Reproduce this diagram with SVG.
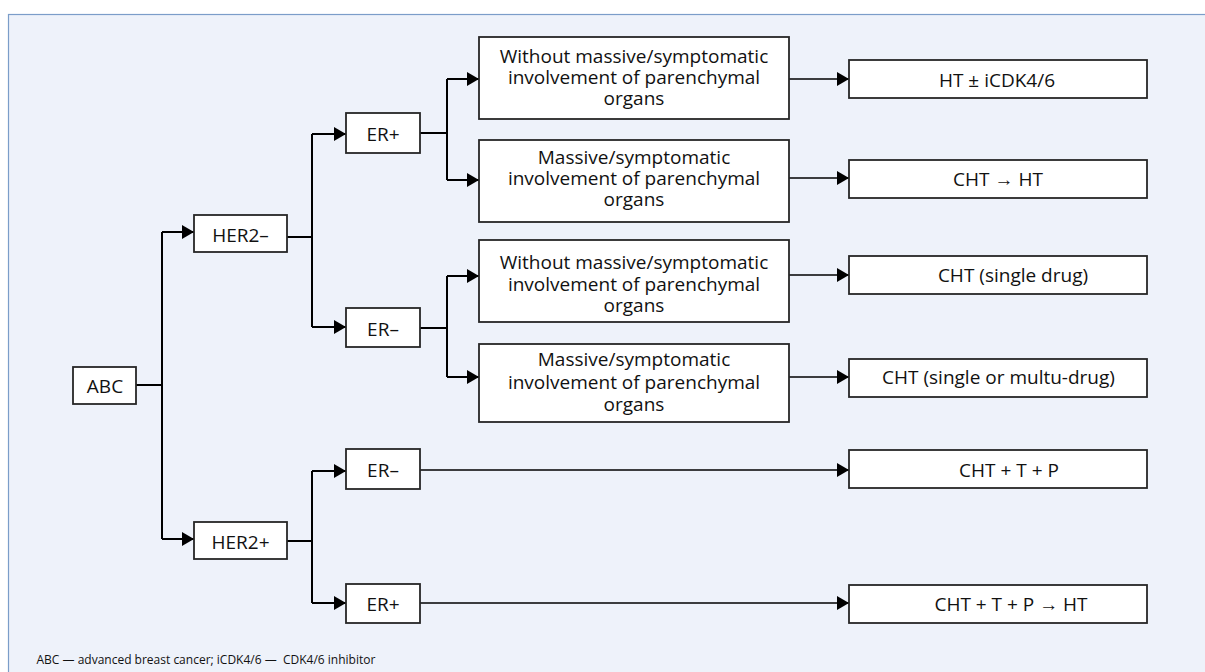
<svg xmlns="http://www.w3.org/2000/svg" width="1205" height="672" viewBox="0 0 1205 672">
  <defs>
    <marker id="arrow" viewBox="0 0 12 14" refX="12" refY="7" markerWidth="12" markerHeight="14" markerUnits="userSpaceOnUse" orient="auto">
      <path d="M0 0 L12 7 L0 14 Z" fill="#000"/>
    </marker>
    <style>
      .box { fill: #fff; stroke: #262626; stroke-width: 1.8; }
      .lbl { font-family: "Open Sans", "Noto Sans", sans-serif; font-size: 19px; fill: #111; text-anchor: middle; }
      .note { font-family: "Open Sans", "Noto Sans", sans-serif; font-size: 12px; fill: #111; }
      .wire { fill: none; stroke: #000; stroke-width: 2; }
      .wire.thin { stroke-width: 1.6; }
    </style>
  </defs>

  <!-- panel background -->
  <rect x="8.5" y="14.5" width="1210" height="680" fill="#EEF2FA" stroke="#7B9DC9" stroke-width="1.2"/>

  <!-- connectors -->
  <g id="connectors">
    <path class="wire" d="M136 385 H162 M162 232 V539"/>
    <path class="wire" d="M162 232 H194" marker-end="url(#arrow)"/>
    <path class="wire" d="M162 539 H194" marker-end="url(#arrow)"/>

    <path class="wire" d="M287 237 H312 M312 134 V327"/>
    <path class="wire" d="M312 134 H346" marker-end="url(#arrow)"/>
    <path class="wire" d="M312 327 H346" marker-end="url(#arrow)"/>

    <path class="wire" d="M287 541 H312 M312 471 V603"/>
    <path class="wire" d="M312 471 H346" marker-end="url(#arrow)"/>
    <path class="wire" d="M312 603 H346" marker-end="url(#arrow)"/>

    <path class="wire" d="M420 133 H447 M447 79 V180"/>
    <path class="wire" d="M447 79 H479" marker-end="url(#arrow)"/>
    <path class="wire" d="M447 180 H479" marker-end="url(#arrow)"/>

    <path class="wire" d="M420 328 H447 M447 276 V377"/>
    <path class="wire" d="M447 276 H479" marker-end="url(#arrow)"/>
    <path class="wire" d="M447 377 H479" marker-end="url(#arrow)"/>

    <path class="wire thin" d="M789 79 H849" marker-end="url(#arrow)"/>
    <path class="wire thin" d="M789 178 H849" marker-end="url(#arrow)"/>
    <path class="wire thin" d="M789 275 H849" marker-end="url(#arrow)"/>
    <path class="wire thin" d="M789 377 H849" marker-end="url(#arrow)"/>
    <path class="wire thin" d="M420 470 H849" marker-end="url(#arrow)"/>
    <path class="wire thin" d="M420 603 H849" marker-end="url(#arrow)"/>
  </g>

  <!-- root -->
  <g id="abc">
    <rect class="box" x="73" y="367" width="63" height="37"/>
    <text class="lbl" x="105" y="392.5">ABC</text>
  </g>

  <!-- HER2 status -->
  <g id="her2-neg">
    <rect class="box" x="194" y="215" width="93" height="37"/>
    <text class="lbl" x="240.5" y="241.5">HER2–</text>
  </g>
  <g id="her2-pos">
    <rect class="box" x="194" y="522" width="93" height="37"/>
    <text class="lbl" x="240.5" y="548.5">HER2+</text>
  </g>

  <!-- ER status -->
  <g id="er-pos-a">
    <rect class="box" x="346" y="113" width="74" height="40"/>
    <text class="lbl" x="383" y="141">ER+</text>
  </g>
  <g id="er-neg-a">
    <rect class="box" x="346" y="308" width="74" height="39"/>
    <text class="lbl" x="383" y="336">ER–</text>
  </g>
  <g id="er-neg-b">
    <rect class="box" x="346" y="449" width="74" height="40"/>
    <text class="lbl" x="383" y="477">ER–</text>
  </g>
  <g id="er-pos-b">
    <rect class="box" x="346" y="584" width="74" height="39"/>
    <text class="lbl" x="383" y="611">ER+</text>
  </g>

  <!-- organ involvement -->
  <g id="inv-without-a">
    <rect class="box" x="479" y="37" width="310" height="82"/>
    <text class="lbl" x="634" y="63">Without massive/symptomatic</text>
    <text class="lbl" x="634" y="84">involvement of parenchymal</text>
    <text class="lbl" x="634" y="105">organs</text>
  </g>
  <g id="inv-massive-a">
    <rect class="box" x="479" y="140" width="310" height="82"/>
    <text class="lbl" x="634" y="164">Massive/symptomatic</text>
    <text class="lbl" x="634" y="185">involvement of parenchymal</text>
    <text class="lbl" x="634" y="206">organs</text>
  </g>
  <g id="inv-without-b">
    <rect class="box" x="479" y="240" width="310" height="82"/>
    <text class="lbl" x="634" y="269">Without massive/symptomatic</text>
    <text class="lbl" x="634" y="290.5">involvement of parenchymal</text>
    <text class="lbl" x="634" y="312">organs</text>
  </g>
  <g id="inv-massive-b">
    <rect class="box" x="479" y="344" width="310" height="78"/>
    <text class="lbl" x="634" y="366">Massive/symptomatic</text>
    <text class="lbl" x="634" y="389">involvement of parenchymal</text>
    <text class="lbl" x="634" y="411">organs</text>
  </g>

  <!-- treatments -->
  <g id="tx-ht">
    <rect class="box" x="849" y="60" width="298" height="38"/>
    <text class="lbl" x="997" y="86.5">HT ± iCDK4/6</text>
  </g>
  <g id="tx-cht-ht">
    <rect class="box" x="849" y="160" width="298" height="38"/>
    <text class="lbl" x="998" y="185.5">CHT → HT</text>
  </g>
  <g id="tx-single">
    <rect class="box" x="849" y="256" width="298" height="38"/>
    <text class="lbl" x="1013" y="281.5">CHT (single drug)</text>
  </g>
  <g id="tx-multi">
    <rect class="box" x="849" y="359" width="298" height="38"/>
    <text class="lbl" x="998.5" y="384">CHT (single or multu-drug)</text>
  </g>
  <g id="tx-ctp">
    <rect class="box" x="849" y="450" width="298" height="38"/>
    <text class="lbl" x="1009" y="476.5">CHT + T + P</text>
  </g>
  <g id="tx-ctp-ht">
    <rect class="box" x="849" y="585" width="298" height="38"/>
    <text class="lbl" x="1011" y="610.5">CHT + T + P → HT</text>
  </g>

  <!-- abbreviations -->
  <text class="note" x="36.5" y="664">ABC — advanced breast cancer; iCDK4/6 —&#160; CDK4/6 inhibitor</text>
</svg>
